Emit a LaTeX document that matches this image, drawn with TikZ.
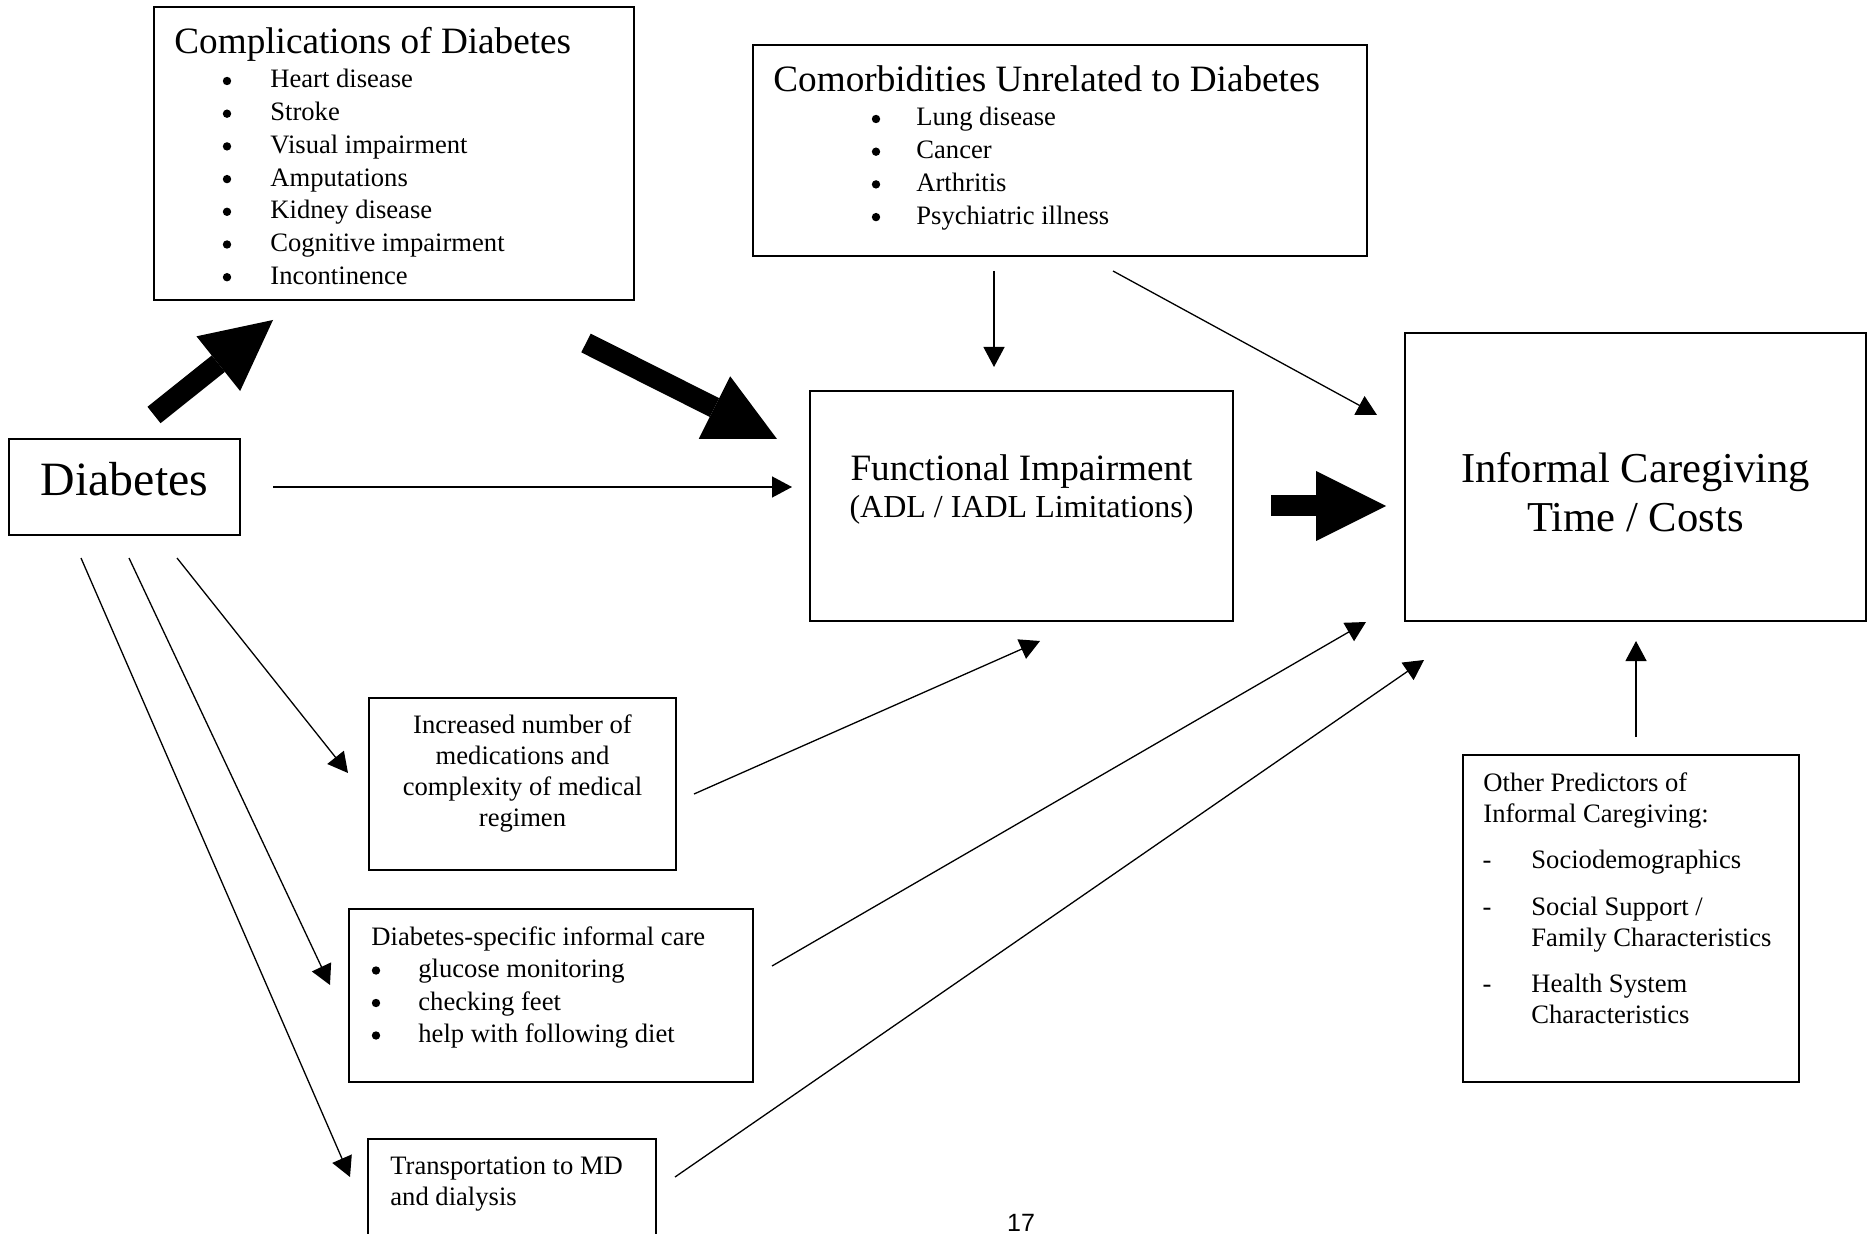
\documentclass[tikz,border=0pt]{standalone}
\usepackage{fontspec}
\setmainfont{Liberation Serif}
\newfontfamily\pagenofont{Liberation Sans}
\usetikzlibrary{arrows.meta,positioning}

\tikzset{
  box/.style 2 args={draw, line width=0.7pt, inner sep=0pt, minimum width=#1*0.5pt, minimum height=#2*0.5pt},
  itemtxt/.style={inner sep=0pt, font=\fontsize{13.3}{16}\selectfont},
  titletxt/.style={inner sep=0pt, font=\fontsize{18.6}{22}\selectfont},
  bulletdot/.style={circle, fill, inner sep=0pt, minimum size=4.2pt},
  link/.style={-{Triangle[length=10pt,width=10.5pt]}, line width=0.65pt},
  fatarrow/.style={-{Triangle[length=35pt,width=35pt,line width=0pt]}, line width=10.5pt},
}

\begin{document}
\begin{tikzpicture}[x=0.5pt,y=-0.5pt]
  \useasboundingbox (0,0) rectangle (1871,1234);
  \clip (0,0) rectangle (1871,1234);

  % boxes
  \node[box={480}{293}] (compl) at (394,153.5) {};
  \node[box={614}{211}] (comorb) at (1060,150.5) {};
  \node[box={231}{96}] (diab) at (124.5,487) {};
  \node[box={423}{230}] (funct) at (1021.5,506) {};
  \node[box={461}{288}] (care) at (1635.5,477) {};
  \node[box={307}{172}] (meds) at (522.5,784) {};
  \node[box={404}{173}] (dscare) at (551,995.5) {};
  \node[box={288}{161}] (transp) at (512,1219.5) {};
  \node[box={336}{327}] (other) at (1631,918.5) {};

  % complications
  \node[titletxt, anchor=base west] (complt) at (174,54) {Complications of Diabetes};
  \foreach \what [count=\i from 0] in {Heart disease, Stroke, Visual impairment, Amputations, Kidney disease, Cognitive impairment, Incontinence} {
    \node[bulletdot] (complb\i) at (227,88-7+32.7*\i) {};
    \node[itemtxt, anchor=base west] (compli\i) at (270,88+32.7*\i) {\what};
  }

  % comorbidities
  \node[titletxt, anchor=base west] (comorbt) at (773,92) {Comorbidities Unrelated to Diabetes};
  \foreach \what [count=\i from 0] in {Lung disease, Cancer, Arthritis, Psychiatric illness} {
    \node[bulletdot] (comorbb\i) at (876,126-7+32.7*\i) {};
    \node[itemtxt, anchor=base west] (comorbi\i) at (916,126+32.7*\i) {\what};
  }

  \node[anchor=base, inner sep=0pt, font=\fontsize{23.9}{28}\selectfont] (diabt) at (124.5,496) {Diabetes};

  \node[titletxt, anchor=base] (functa) at (1021.5,481) {Functional Impairment};
  \node[anchor=base, inner sep=0pt, font=\fontsize{16}{19}\selectfont] (functb) at (1021.5,517) {(ADL / IADL Limitations)};

  \node[anchor=base, inner sep=0pt, font=\fontsize{21.3}{25}\selectfont] (carea) at (1635.5,483) {Informal Caregiving};
  \node[anchor=base, inner sep=0pt, font=\fontsize{21.3}{25}\selectfont] (careb) at (1635.5,531) {Time / Costs};

  % medications
  \foreach \what [count=\i from 0] in {Increased number of, medications and, complexity of medical, regimen}
    \node[itemtxt, anchor=base] (meds\i) at (522.5,733+31*\i) {\what};

  % diabetes-specific care
  \node[itemtxt, anchor=base west] (dscaret) at (371,945) {Diabetes-specific informal care};
  \foreach \what [count=\i from 0] in {glucose monitoring, checking feet, help with following diet} {
    \node[bulletdot] (dscareb\i) at (376,977.5-7+32.5*\i) {};
    \node[itemtxt, anchor=base west] (dscarei\i) at (418,977.5+32.5*\i) {\what};
  }

  \node[itemtxt, anchor=base west] (transpa) at (390,1174) {Transportation to MD};
  \node[itemtxt, anchor=base west] (transpb) at (390,1205) {and dialysis};

  % other predictors
  \node[itemtxt, anchor=base west] (othera) at (1483,791) {Other Predictors of};
  \node[itemtxt, anchor=base west] (otherb) at (1483,822) {Informal Caregiving:};
  \foreach \y/\what [count=\i] in {868.5/{Sociodemographics}, 915/{Social Support /}, 992.5/{Health System}} {
    \node[itemtxt, anchor=base] (dash\i) at (1487,\y) {-};
    \node[itemtxt, anchor=base west] (otheri\i) at (1531,\y) {\what};
  }
  \node[itemtxt, anchor=base west] (otherc) at (1531,946) {Family Characteristics};
  \node[itemtxt, anchor=base west] (otherd) at (1531,1023.5) {Characteristics};

  \node[anchor=base, inner sep=0pt, font=\pagenofont\fontsize{12.5}{15}\selectfont] (pageno) at (1021,1231) {17};

  % arrow ends
  \coordinate (a1) at (273,487);   \coordinate (b1) at (792,487);
  \coordinate (a2) at (994,271);   \coordinate (b2) at (994,367);
  \coordinate (a3) at (1113,271);  \coordinate (b3) at (1377,415);
  \coordinate (a4) at (177,558);   \coordinate (b4) at (348,773);
  \coordinate (a5) at (129,558);   \coordinate (b5) at (330,985);
  \coordinate (a6) at (81,558);    \coordinate (b6) at (350,1177);
  \coordinate (a7) at (694,794);   \coordinate (b7) at (1040,641);
  \coordinate (a8) at (772,966);   \coordinate (b8) at (1366,622);
  \coordinate (a9) at (675,1177);  \coordinate (b9) at (1424,660);
  \coordinate (a10) at (1636,737); \coordinate (b10) at (1636,641);
  \coordinate (t1) at (154,415);   \coordinate (h1) at (273,320);
  \coordinate (t2) at (586,343);   \coordinate (h2) at (777,439);
  \coordinate (t3) at (1271,506);  \coordinate (h3) at (1386,506);

  \foreach \i in {1,...,10}
    \draw[link] (a\i) -- (b\i);
  \foreach \i in {1,2,3}
    \draw[fatarrow] (t\i) -- (h\i);
\end{tikzpicture}
\end{document}
